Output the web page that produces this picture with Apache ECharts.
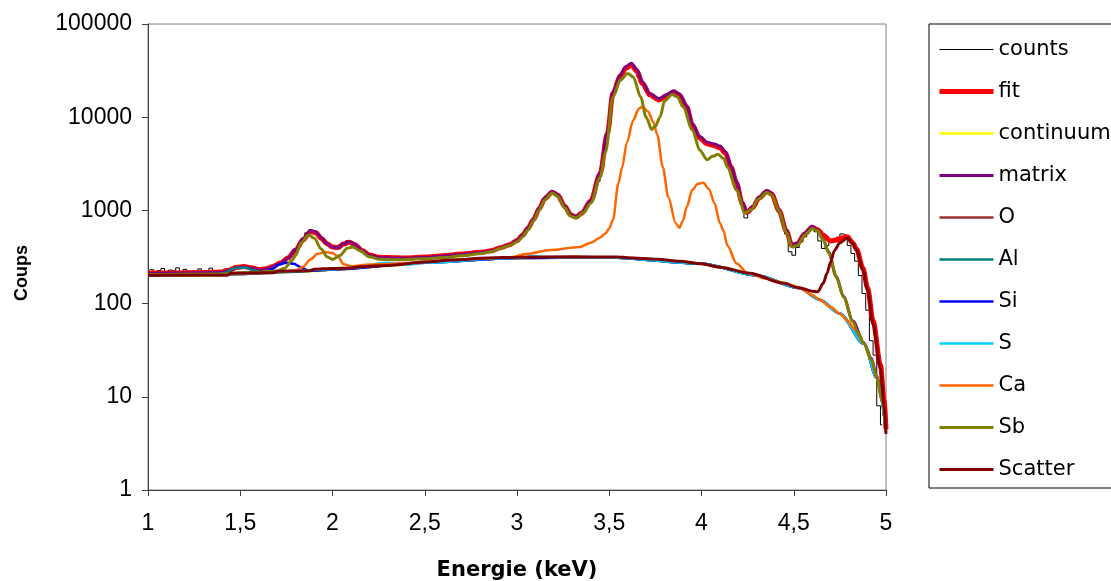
<!DOCTYPE html>
<html>
<head>
<meta charset="utf-8">
<script src="https://cdn.jsdelivr.net/npm/echarts@6/dist/echarts.min.js"></script>
<style>
html,body{margin:0;padding:0;background:#fff;}
#c{width:1111px;height:581px;}
</style>
</head>
<body>
<div id="c"></div>
<script>
// ---- Data (energy keV, counts) ----
const xTicks = [1, 1.5, 2, 2.5, 3, 3.5, 4, 4.5, 5];
const yTicks = [1, 10, 100, 1000, 10000, 100000];

// measured counts, one channel every 0.02 keV starting at 1.00 keV
const countsStart = 1.0, countsStep = 0.02;
const countsY = [
218,231,209,226,238,214,229,221,242,208,233,219,227,212,236,222,215,240,220,228,
217,235,241,229,252,246,258,237,249,226,238,218,242,235,251,262,270,292,305,338,
372,440,505,575,612,588,548,498,452,418,405,390,425,448,472,460,438,395,372,338,
329,318,322,305,318,312,320,302,315,308,298,316,305,312,322,310,318,328,315,332,
322,336,328,342,330,345,338,352,340,358,348,365,360,372,385,392,405,418,425,448,
470,522,575,650,755,880,1040,1250,1430,1540,1575,1460,1270,1090,955,860,835,880,990,1110,
1270,1560,2050,2900,4600,8500,17500,23000,27500,32000,35500,36800,33000,27000,22500,19500,17200,15900,15300,15700,
16800,18000,18700,18100,16500,14300,12600,9500,7300,6200,5700,5300,5100,4950,4850,4600,4200,3650,2900,2200,
1650,1150,830,980,1080,1250,1420,1580,1610,1470,1230,960,760,560,360,330,400,460,520,610,
650,590,470,390,420,455,470,515,560,535,420,345,285,200,128,85,40,28,8,5
];

const fit = [[1.0,212],[1.1,213],[1.2,214],[1.3,215],[1.4,218],[1.44,228],[1.48,245],[1.52,250],[1.56,242],[1.6,232],[1.64,236],[1.68,252],[1.72,275],[1.76,310],[1.80,375],[1.84,480],[1.88,595],[1.91,575],[1.94,500],[1.97,440],[2.0,405],[2.03,400],[2.06,435],[2.09,455],[2.12,430],[2.16,372],[2.2,332],[2.25,314],[2.3,312],[2.4,308],[2.5,316],[2.6,326],[2.7,340],[2.8,355],[2.86,368],[2.91,398],[2.96,428],[3.0,475],[3.03,540],[3.06,645],[3.09,800],[3.12,1040],[3.15,1330],[3.19,1570],[3.22,1460],[3.26,1100],[3.29,900],[3.32,850],[3.35,930],[3.40,1260],[3.45,2450],[3.49,6700],[3.52,18000],[3.56,27500],[3.59,33500],[3.62,36500],[3.65,31000],[3.68,23000],[3.72,17400],[3.77,15300],[3.81,16800],[3.85,18600],[3.88,17200],[3.92,12900],[3.95,8300],[3.99,6000],[4.03,5200],[4.07,4950],[4.10,4700],[4.13,4100],[4.16,2900],[4.19,1970],[4.22,1200],[4.245,950],[4.28,1080],[4.31,1350],[4.355,1600],[4.38,1500],[4.42,1000],[4.46,600],[4.49,420],[4.52,440],[4.56,560],[4.60,660],[4.63,620],[4.66,540],[4.70,470],[4.73,480],[4.76,505],[4.79,520],[4.82,450],[4.84,385],[4.875,240],[4.90,148],[4.93,65],[4.97,22],[4.99,9],[5.0,4.5]];

const continuum = [[1.0,200],[1.45,205],[1.6,214],[1.9,224],[2.1,238],[2.3,254],[2.5,274],[2.7,292],[2.9,305],[3.1,312],[3.3,316],[3.5,313],[3.7,302],[3.9,283],[4.0,268],[4.1,246],[4.2,225],[4.3,200],[4.4,176],[4.5,156],[4.53,147],[4.60,124],[4.64,110],[4.70,92],[4.75,78],[4.79,66],[4.83,53],[4.88,37],[4.92,25],[4.95,16],[4.98,9],[5.0,4.4]];

const matrix = [[1.0,211],[1.2,213],[1.4,217],[1.44,226],[1.48,242],[1.52,247],[1.56,240],[1.6,230],[1.64,234],[1.68,250],[1.72,272],[1.76,308],[1.80,380],[1.84,490],[1.88,610],[1.91,585],[1.94,505],[1.97,440],[2.0,402],[2.03,400],[2.06,438],[2.09,460],[2.12,432],[2.16,370],[2.2,330],[2.25,312],[2.3,310],[2.4,306],[2.5,314],[2.6,324],[2.7,338],[2.8,352],[2.86,366],[2.91,396],[2.96,428],[3.0,478],[3.03,545],[3.06,650],[3.09,810],[3.12,1060],[3.15,1360],[3.19,1600],[3.22,1480],[3.26,1110],[3.29,905],[3.32,855],[3.35,935],[3.40,1270],[3.45,2500],[3.49,6900],[3.52,18500],[3.56,28500],[3.59,35000],[3.62,38000],[3.65,32500],[3.68,24000],[3.72,18000],[3.77,15800],[3.81,17400],[3.85,19200],[3.88,17800],[3.92,13300],[3.95,8500],[3.99,6200],[4.03,5400],[4.07,5150],[4.10,4900],[4.13,4250],[4.16,3000],[4.19,2020],[4.22,1220],[4.245,960],[4.28,1100],[4.31,1380],[4.355,1640],[4.38,1530],[4.42,1020],[4.46,610],[4.49,425],[4.52,445],[4.56,570],[4.60,675],[4.63,610],[4.66,485],[4.69,355],[4.73,196],[4.77,119],[4.82,65],[4.88,38],[4.92,26],[4.95,16.5],[4.98,9.2],[5.0,4.8]];

const oxygen = [[1.0,201],[1.5,208],[2.0,232],[2.5,274],[3.0,309],[3.5,313],[4.0,268],[4.3,200],[4.53,147],[4.64,110],[4.75,78],[4.88,37],[4.95,16],[5.0,4.4]];

const alu = [[1.0,201],[1.38,204],[1.42,214],[1.46,236],[1.49,244],[1.53,242],[1.57,228],[1.62,214],[1.8,220],[2.0,234],[2.5,274],[3.0,309],[3.5,313],[4.0,268],[4.3,200],[4.53,147],[4.64,110],[4.75,78],[4.88,37],[4.95,16],[5.0,4.4]];

const si = [[1.0,201],[1.5,208],[1.62,214],[1.67,232],[1.71,262],[1.75,275],[1.79,268],[1.83,245],[1.87,226],[1.95,228],[2.0,234],[2.5,274],[3.0,309],[3.5,313],[4.0,268],[4.3,200],[4.53,147],[4.64,110],[4.75,78],[4.88,37],[4.95,16],[5.0,4.4]];

const sulfur = [[1.0,201],[1.5,208],[2.0,234],[2.14,244],[2.2,258],[2.26,271],[2.3,274],[2.34,268],[2.4,262],[2.5,274],[2.9,305],[3.04,312],[3.07,322],[3.1,324],[3.13,318],[3.2,313],[3.5,313],[4.0,268],[4.3,200],[4.53,147],[4.64,110],[4.75,78],[4.88,37],[4.95,16],[5.0,4.4]];

const ca = [[1.0,203],[1.4,206],[1.6,214],[1.8,226],[1.84,248],[1.88,298],[1.92,342],[1.96,358],[2.0,348],[2.03,320],[2.06,265],[2.1,252],[2.2,262],[2.3,266],[2.4,272],[2.5,282],[2.7,297],[2.85,307],[2.96,313],[3.05,340],[3.18,375],[3.34,405],[3.40,450],[3.45,510],[3.48,570],[3.50,640],[3.52,790],[3.55,1970],[3.57,2900],[3.595,5300],[3.63,9300],[3.66,12300],[3.68,13000],[3.71,11500],[3.74,8800],[3.76,6500],[3.79,2930],[3.82,1390],[3.86,730],[3.88,650],[3.90,780],[3.92,1090],[3.95,1660],[3.98,1930],[4.01,1980],[4.04,1700],[4.07,1200],[4.10,730],[4.12,600],[4.14,420],[4.19,270],[4.25,213],[4.35,186],[4.44,166],[4.53,147],[4.60,124],[4.64,110],[4.70,92],[4.75,78],[4.79,66],[4.83,53],[4.88,37],[4.92,25],[4.95,16],[4.98,9],[5.0,4.4]];

const sb = [[1.0,205],[1.2,206],[1.4,208],[1.5,214],[1.6,217],[1.7,224],[1.74,240],[1.78,290],[1.80,330],[1.83,450],[1.87,545],[1.90,505],[1.94,385],[1.97,318],[2.0,298],[2.04,328],[2.08,392],[2.11,405],[2.15,368],[2.2,318],[2.25,300],[2.35,295],[2.5,302],[2.6,312],[2.7,326],[2.8,342],[2.86,360],[2.91,392],[2.96,420],[3.0,462],[3.03,520],[3.06,620],[3.09,780],[3.12,1010],[3.15,1300],[3.19,1540],[3.22,1420],[3.26,1060],[3.29,870],[3.32,830],[3.36,950],[3.40,1200],[3.45,2250],[3.48,4200],[3.52,16500],[3.56,25000],[3.60,29500],[3.63,27000],[3.67,16500],[3.70,10000],[3.73,7400],[3.75,8000],[3.775,10000],[3.80,15000],[3.84,17500],[3.87,16500],[3.90,12900],[3.95,7300],[3.99,4460],[4.03,3500],[4.06,3800],[4.09,4000],[4.12,3600],[4.14,2900],[4.19,1660],[4.235,940],[4.27,1020],[4.31,1330],[4.355,1560],[4.38,1470],[4.42,990],[4.46,580],[4.49,405],[4.52,420],[4.56,545],[4.60,640],[4.63,600],[4.66,480],[4.69,350],[4.73,193],[4.77,117],[4.82,64],[4.85,48],[4.88,37],[4.92,25],[4.95,16],[4.98,9],[5.0,4.7]];

const scatter = [[1.0,202],[1.43,202],[1.45,212],[1.68,214],[1.70,223],[1.88,225],[1.90,234],[2.0,238],[2.1,241],[2.15,249],[2.3,257],[2.5,279],[2.65,294],[2.84,309],[3.0,314],[3.3,318],[3.55,316],[3.6,311],[3.76,300],[3.88,285],[4.0,268],[4.1,246],[4.26,212],[4.44,166],[4.53,148],[4.60,136],[4.63,134],[4.66,165],[4.68,210],[4.70,280],[4.72,370],[4.75,450],[4.79,505],[4.82,440],[4.84,375],[4.875,230],[4.90,140],[4.93,60],[4.97,20],[4.99,8],[5.0,4]];

// ---- chart ----
const counts = countsY.map((v, i) => [+(countsStart + i * countsStep).toFixed(2), v]);
const FONT = "'Liberation Sans', Arial, sans-serif";
const WIDE = "'DejaVu Sans', Verdana, sans-serif";

function S(name, data, color, width, extra) {
  return Object.assign({
    name, type: 'line', data, symbol: 'none', showSymbol: false,
    smooth: 0.3, smoothMonotone: 'x',
    lineStyle: { color, width }, itemStyle: { color },
    animation: false, silent: true
  }, extra || {});
}

const chart = echarts.init(document.getElementById('c'), null, { renderer: 'canvas' });
chart.setOption({
  backgroundColor: '#ffffff',
  animation: false,
  grid: { left: 148, top: 24, right: 225, bottom: 91, outerBoundsMode: 'none', containLabel: false,
          show: true, borderColor: '#808080', borderWidth: 1, backgroundColor: '#ffffff' },
  legend: {
    orient: 'vertical', left: 929, top: 24,
    itemWidth: 54, itemHeight: 14, itemGap: 21,
    padding: [15, 40, 8, 8],
    borderColor: '#000000', borderWidth: 1,
    selectedMode: false,
    itemStyle: { opacity: 0 },
    lineStyle: { width: 'inherit' },
    textStyle: { fontSize: 21, color: '#000', fontFamily: WIDE },
    data: ['counts','fit','continuum','matrix','O','Al','Si','S','Ca','Sb','Scatter']
  },
  graphic: [{
    type: 'text', x: 22, y: 273, rotation: Math.PI / 2,
    style: { text: 'Coups', fontSize: 18, fontWeight: 'bold', fill: '#000', fontFamily: FONT, align: 'center', verticalAlign: 'middle' }
  }],
  xAxis: {
    type: 'value', min: 1, max: 5, interval: 0.5,
    name: 'Energie (keV)', nameLocation: 'middle', nameGap: 70,
    nameTextStyle: { fontSize: 21, fontWeight: 'bold', color: '#000', fontFamily: WIDE },
    axisLine: { show: true, onZero: false, lineStyle: { color: '#404040', width: 1 } },
    axisTick: { show: true, length: 6, lineStyle: { color: '#404040' } },
    axisLabel: { fontSize: 23, color: '#000', fontFamily: FONT, margin: 22,
      formatter: v => String(v).replace('.', ',') },
    splitLine: { show: false }
  },
  yAxis: {
    type: 'log', logBase: 10, min: 1, max: 100000,
    axisLine: { show: true, lineStyle: { color: '#404040', width: 1 } },
    axisTick: { show: true, length: 6, lineStyle: { color: '#404040' } },
    axisLabel: { fontSize: 23, color: '#000', fontFamily: FONT, margin: 16,
      formatter: v => String(Math.round(v)) },
    splitLine: { show: false }
  },
  series: [
    S('counts', counts, '#000000', 1, { smooth: false, step: 'middle' }),
    S('fit', fit, '#ff0000', 5),
    S('continuum', continuum, '#ffff00', 2.5),
    S('matrix', matrix, '#800080', 3),
    S('O', oxygen, '#993333', 2.5),
    S('Al', alu, '#008080', 2.5),
    S('Si', si, '#0000ff', 2.5),
    S('S', sulfur, '#00ccff', 2.5),
    S('Ca', ca, '#ff6600', 2.5),
    S('Sb', sb, '#808000', 3),
    S('Scatter', scatter, '#800000', 3)
  ]
});
</script>
</body>
</html>
